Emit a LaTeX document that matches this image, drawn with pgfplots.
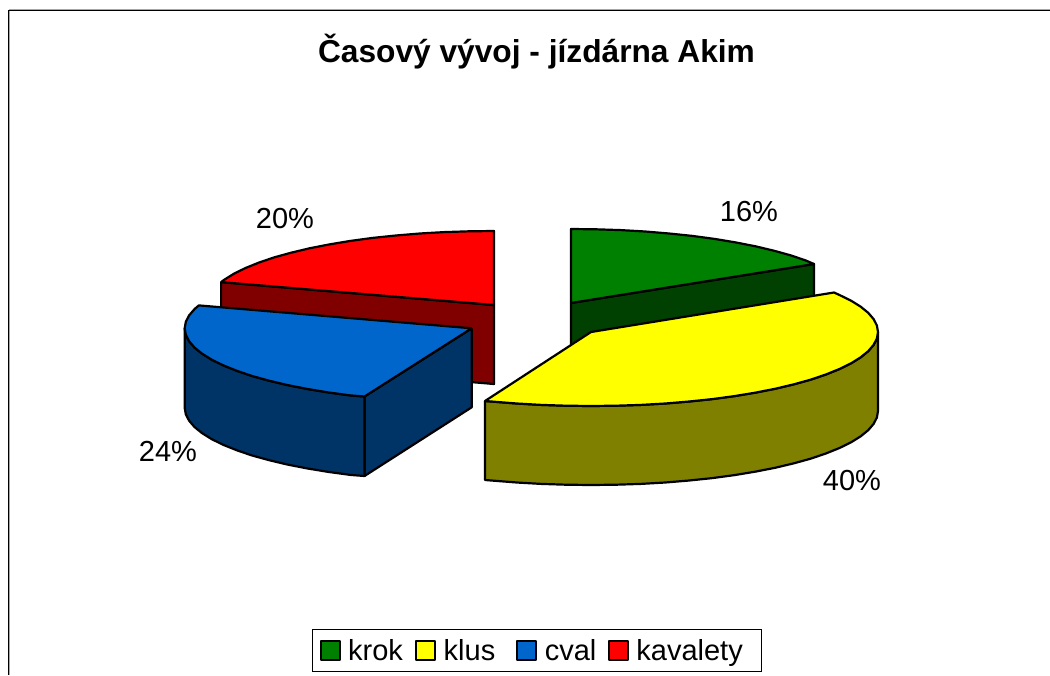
\documentclass[border=0pt]{standalone}
\usepackage{pgfplots}
\pgfplotsset{compat=1.18}
\usepackage{fontspec}
\setmainfont{Liberation Sans}
\definecolor{krokT}{HTML}{008000}
\definecolor{krokS}{HTML}{004000}
\definecolor{klusT}{HTML}{FFFF00}
\definecolor{klusS}{HTML}{808000}
\definecolor{cvalT}{HTML}{0066CC}
\definecolor{cvalS}{HTML}{003366}
\definecolor{kavaT}{HTML}{FF0000}
\definecolor{kavaS}{HTML}{800000}
\begin{document}
\begin{tikzpicture}[x=1pt,y=1pt]
\useasboundingbox (0,0) rectangle (1050,675);
\begin{axis}[
  at={(0,0)},anchor=south west,
  width=1050pt,height=675pt,scale only axis,
  xmin=0,xmax=1050,ymin=0,ymax=675,y dir=reverse,
  hide axis,clip=false,
  slice/.style={draw=black,line width=2.2pt,line join=round},
  legend columns=4,
  legend cell align=left,
  legend image code/.code={\path (0pt,0pt) (31pt,0pt);\draw[#1,line width=2.2pt,line join=round] (8pt,-9.5pt) rectangle (27pt,9.5pt);},
  legend style={
    at={(axis cs:311.7,672.3)},anchor=south west,
    draw=black,line width=1pt,fill=white,
    inner xsep=0pt,inner ysep=7pt,
    font=\fontsize{29}{33}\selectfont,
    /tikz/every even column/.style={column sep=0pt},
    nodes={inner xsep=4pt,inner ysep=3pt},
  },
]
% legend order
\addlegendimage{fill=krokT,draw=black}\addlegendentry{krok\hspace*{0.7pt}}
\addlegendimage{fill=klusT,draw=black}\addlegendentry{klus\hspace*{9.6pt}}
\addlegendimage{fill=cvalT,draw=black}\addlegendentry{cval}
\addlegendimage{fill=kavaT,draw=black}\addlegendentry{kavalety\hspace*{15pt}}

% chart frame (top and left edges only)
\addplot[forget plot,draw=gray!70,line width=1pt] coordinates {(9.6,675) (9.6,10) };
\addplot[forget plot,draw=gray!70,line width=1pt] coordinates {(9,9) (1050,9)};
\addplot[forget plot,draw=black,line width=1.4pt] coordinates {(8.5,675) (8.5,10.2) (1050,10.2)};

% kavalety: side, top
\addplot[forget plot,slice,fill=kavaS] coordinates {(221.1,282.1) (494,305) (494,384) (221.1,361) (221.1,282.1)};
\addplot[forget plot,slice,fill=kavaT] coordinates {(494,305) (221.1,282.1) (224.3,279.7) (233.9,273.7) (245.5,268) (258.9,262.6) (274.1,257.4) (291.1,252.7) (309.5,248.3) (329.4,244.4) (350.5,240.9) (372.7,237.9) (395.8,235.5) (419.7,233.5) (444.2,232.1) (469,231.3) (494,231) (494,305)};

% krok: side, top
\addplot[forget plot,slice,fill=krokS] coordinates {(571,303) (814,264) (814,343) (571,382) (571,303)};
\addplot[forget plot,slice,fill=krokT] coordinates {(571,303) (571,229) (596,229.3) (620.8,230.1) (645.3,231.5) (669.2,233.5) (692.3,235.9) (714.5,238.9) (735.6,242.4) (755.5,246.3) (773.9,250.7) (790.9,255.4) (806.1,260.6) (814,264) (571,303)};

% cval: radial face, outer wall, top
\addplot[forget plot,slice,fill=cvalS] coordinates {(471.7,328.3) (364.5,396.5) (364.5,476) (471.7,407.3) (471.7,328.3)};
\addplot[forget plot,slice,fill=cvalS] coordinates {(364.5,396.5) (350.4,395.4) (328.2,392.4) (307.1,388.9) (287.2,385) (268.8,380.6) (251.8,375.9) (236.6,370.7) (223.2,365.3) (211.6,359.6) (202,353.6) (194.5,347.5) (189.1,341.2) (185.8,334.8) (184.7,328.3) (184.7,407.8) (185.8,414.3) (189.1,420.7) (194.5,427) (202,433.1) (211.6,439.1) (223.2,444.8) (236.6,450.2) (251.8,455.4) (268.8,460.1) (287.2,464.5) (307.1,468.4) (328.2,471.9) (350.4,474.9) (364.5,476) (364.5,396.5)};
\addplot[forget plot,slice,fill=cvalT] coordinates {(471.7,328.3) (364.5,396.5) (350.4,395.4) (328.2,392.4) (307.1,388.9) (287.2,385) (268.8,380.6) (251.8,375.9) (236.6,370.7) (223.2,365.3) (211.6,359.6) (202,353.6) (194.5,347.5) (189.1,341.2) (185.8,334.8) (184.7,328.3) (185.8,321.8) (189.1,315.4) (194.5,309.1) (198.8,305.4) (471.7,328.3)};

% klus: outer wall, top
\addplot[forget plot,slice,fill=klusS] coordinates {(485,401) (516.7,403.5) (541.2,404.9) (566,405.7) (591,406) (616,405.7) (640.8,404.9) (665.3,403.5) (689.2,401.5) (712.3,399.1) (734.5,396.1) (755.6,392.6) (775.5,388.7) (793.9,384.3) (810.9,379.6) (826.1,374.4) (839.5,369) (851.1,363.3) (860.7,357.3) (868.2,351.2) (873.6,344.9) (876.9,338.5) (878,332) (878,411) (876.9,417.5) (873.6,423.9) (868.2,430.2) (860.7,436.3) (851.1,442.3) (839.5,448) (826.1,453.4) (810.9,458.6) (793.9,463.3) (775.5,467.7) (755.6,471.6) (734.5,475.1) (712.3,478.1) (689.2,480.5) (665.3,482.5) (640.8,483.9) (616,484.7) (591,485) (566,484.7) (541.2,483.9) (516.7,482.5) (485,480) (485,401)};
\addplot[forget plot,slice,fill=klusT] coordinates {(591,332) (834,292.5) (839.5,295) (851.1,300.7) (860.7,306.7) (868.2,312.8) (873.6,319.1) (876.9,325.5) (878,332) (876.9,338.5) (873.6,344.9) (868.2,351.2) (860.7,357.3) (851.1,363.3) (839.5,369) (826.1,374.4) (810.9,379.6) (793.9,384.3) (775.5,388.7) (755.6,392.6) (734.5,396.1) (712.3,399.1) (689.2,401.5) (665.3,403.5) (640.8,404.9) (616,405.7) (591,406) (566,405.7) (541.2,404.9) (516.7,403.5) (485,401) (591,332)};

% title and data labels
\node[font=\fontsize{31.7}{36}\selectfont\bfseries] at (axis cs:536.5,52) {Časový vývoj - jízdárna Akim};
\node[font=\fontsize{29}{33}\selectfont] at (axis cs:749,212) {16\%};
\node[font=\fontsize{29}{33}\selectfont] at (axis cs:285,219) {20\%};
\node[font=\fontsize{29}{33}\selectfont] at (axis cs:168,451) {24\%};
\node[font=\fontsize{29}{33}\selectfont] at (axis cs:852,481) {40\%};
\end{axis}
\end{tikzpicture}
\end{document}
